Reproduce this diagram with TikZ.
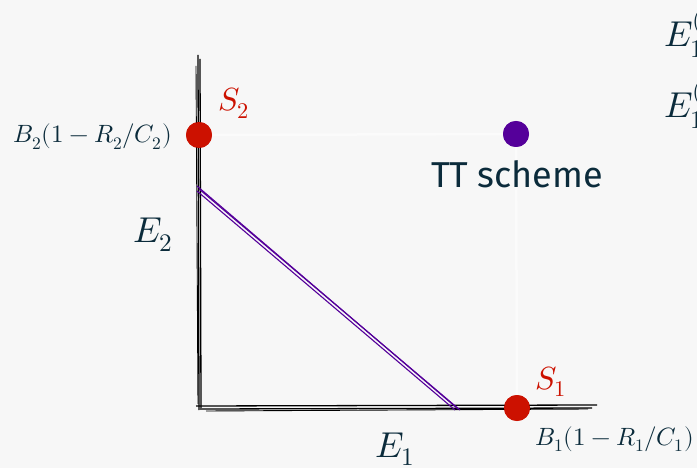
\documentclass[tikz,border=0pt]{standalone}
\usepackage{fontspec}
\usepackage{unicode-math}
\setmathfont{Latin Modern Math}
\setsansfont{Fira Sans}
\definecolor{bgc}{HTML}{F7F7F7}
\definecolor{redc}{HTML}{CC1100}
\definecolor{purc}{HTML}{55009A}
\definecolor{txtc}{HTML}{0B2B3B}
\definecolor{guidec}{HTML}{FBFBFB}
\tikzset{
  dot/.style={circle,inner sep=0pt,minimum size=26pt},
  reddot/.style={dot,fill=redc},
  purdot/.style={dot,fill=purc},
  axisline/.style={black,line width=1.3pt},
  purline/.style={purc,line width=1.1pt},
  guideline/.style={guidec,line width=2.5pt},
  bigmath/.style={text=txtc,font=\fontsize{36}{36}\selectfont,inner sep=0pt},
  redmath/.style={text=redc,font=\fontsize{32}{32}\selectfont,inner sep=0pt},
  smallmath/.style={text=txtc,font=\fontsize{25}{25}\selectfont,inner sep=0pt},
  sanslabel/.style={text=txtc,font=\sffamily\fontsize{36}{36}\selectfont,inner sep=0pt}
}
\begin{document}
\begin{tikzpicture}[x=1pt,y=-1pt]
\useasboundingbox (0,0) rectangle (697,468);
\fill[bgc] (0,0) rectangle (697,468);
\clip (0,0) rectangle (697,468);
% points
\node[reddot] (S2) at (199,135) {};
\node[reddot] (S1) at (517,408) {};
\node[purdot] (TT) at (516,134) {};
% axes (sketchy)
\coordinate (ytop1) at (198,55);  \coordinate (ybot1) at (199,410);
\coordinate (ytop2) at (200,59);  \coordinate (ybot2) at (201,408);
\coordinate (ytop3) at (196,66);  \coordinate (ybot3) at (198,404);
\coordinate (xl1) at (196,406); \coordinate (xr1) at (597,405);
\coordinate (xl2) at (200,409); \coordinate (xr2) at (592,408);
\coordinate (xl3) at (206,411); \coordinate (xr3) at (588,409);
\coordinate (p1a) at (197,186); \coordinate (p1b) at (458,409);
\coordinate (p2a) at (197,191); \coordinate (p2b) at (455,410);
\coordinate (p3a) at (199,189); \coordinate (p3b) at (460,410);
\draw[guideline] (S2) -- (TT) -- (S1);
\draw[axisline] (ytop1) -- (ybot1);
\draw[axisline] (ytop2) -- (ybot2);
\draw[axisline,line width=0.9pt] (ytop3) -- (ybot3);
\draw[axisline] (xl1) -- (xr1);
\draw[axisline] (xl2) -- (xr2);
\draw[axisline,line width=0.9pt] (xl3) -- (xr3);
\draw[purline] (p1a) -- (p1b);
\draw[purline] (p2a) -- (p2b);
\draw[purline] (p3a) -- (p3b);
% redraw dots on top
\node[reddot] at (S2) {};
\node[reddot] at (S1) {};
\node[purdot] at (TT) {};
% labels
\node[redmath,anchor=base] (S2l) at (234,111) {$S_2$};
\node[redmath,anchor=base] (S1l) at (551,389) {$S_1$};
\node[smallmath,anchor=base east] (B2l) at (172,143) {$B_2(1-R_2/C_2)$};
\node[smallmath,anchor=base west] (B1l) at (535,445) {$B_1(1-R_1/C_1)$};
\node[bigmath,anchor=base] (E2l) at (153,243) {$E_2$};
\node[bigmath,anchor=base] (E1l) at (395,457) {$E_1$};
\node[sanslabel,anchor=base] (TTl) at (517,188) {TT scheme};
\node[bigmath,anchor=base west] (Ea) at (664,47) {$E_1^{(1)}$};
\node[bigmath,anchor=base west] (Eb) at (664,118) {$E_1^{(2)}$};
\end{tikzpicture}
\end{document}
